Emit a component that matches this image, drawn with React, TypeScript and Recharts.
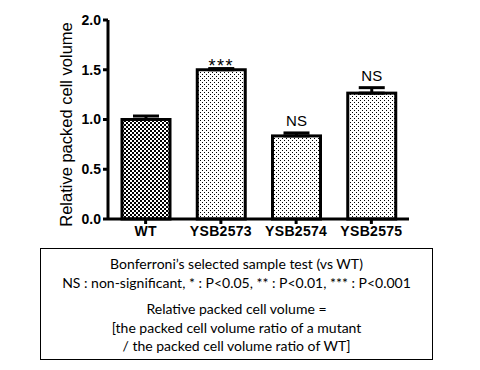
import React from "react";
import {
  BarChart, Bar, XAxis, YAxis, ErrorBar, LabelList, Label,
} from "recharts";

// ─── values ───────────────────────────────────────────────────────────────────
const STRAINS = ["WT", "YSB2573", "YSB2574", "YSB2575"];
const VOLUMES = [1.0, 1.5, 0.835, 1.265];
const ERRORS = [0.035, 0.012, 0.03, 0.055];
const SIGNIF = ["", "***", "NS", "NS"];
const Y_TICKS = [0, 0.5, 1.0, 1.5, 2.0];

const NOTE_LINES_TOP = [
  "Bonferroni\u2019s selected sample test (vs WT)",
  "NS : non-significant, * : P<0.05, ** : P<0.01, *** : P<0.001",
];
const NOTE_LINES_BOTTOM = [
  "Relative packed cell volume =",
  "[the packed cell volume ratio of a mutant",
  "/ the packed cell volume ratio of WT]",
];

const data = STRAINS.map((name, i) => ({
  name,
  value: VOLUMES[i],
  err: [0, ERRORS[i]],
  sig: SIGNIF[i],
}));

const AXIS_FONT = "'Liberation Sans', Arial, sans-serif";

// significance marks sit just above the error-bar cap
const SigLabel = (props: any) => {
  const { x, y, width, height, value, index } = props;
  if (!value) return null;
  const pxPerUnit = height / VOLUMES[index];
  const capY = y - ERRORS[index] * pxPerUnit;
  const isStars = value.startsWith("*");
  return (
    <text
      x={x + width / 2}
      y={isStars ? capY + 3 : capY - 7}
      textAnchor="middle"
      fontFamily={AXIS_FONT}
      fontSize={isStars ? 18 : 15}
      letterSpacing={isStars ? 1.5 : 0}
      fill="#000"
    >
      {value}
    </text>
  );
};

const YTitle = (props: any) => {
  const { viewBox } = props;
  const cx = viewBox.x + 18;
  const cy = viewBox.y + viewBox.height / 2 + 5;
  return (
    <text
      x={cx}
      y={cy}
      transform={`rotate(-90 ${cx} ${cy})`}
      textAnchor="middle"
      dominantBaseline="central"
      fontFamily={AXIS_FONT}
      fontSize={16.5}
      fill="#000"
    >
      Relative packed cell volume
    </text>
  );
};

export default function App() {
  return (
    <div style={{ position: "absolute", left: 0, top: 0, width: 480, height: 370, background: "#fff" }}>
      <BarChart
        width={480}
        height={250}
        data={data}
        margin={{ top: 20, right: 71, left: 48, bottom: 6 }}
        barSize={48}
      >
        <defs>
          <pattern id="checker" width="4" height="4" patternUnits="userSpaceOnUse">
            <rect width="4" height="4" fill="#fff" />
            <rect x="0" y="0" width="2" height="2" fill="#000" />
            <rect x="2" y="2" width="2" height="2" fill="#000" />
          </pattern>
          <pattern id="dots" width="4" height="4" patternUnits="userSpaceOnUse">
            <rect width="4" height="4" fill="#fff" />
            <rect x="0" y="0" width="1" height="1" fill="#000" />
            <rect x="2" y="2" width="1" height="1" fill="#000" />
          </pattern>
        </defs>
        <XAxis
          dataKey="name"
          height={25}
          stroke="#000"
          strokeWidth={3}
          tickSize={5}
          tick={{ fill: "#000", fontFamily: AXIS_FONT, fontSize: 14, fontWeight: "bold", letterSpacing: 0.3 }}
        />
        <YAxis
          width={60}
          domain={[0, 2]}
          ticks={Y_TICKS}
          interval={0}
          stroke="#000"
          strokeWidth={3}
          tickSize={5}
          tickFormatter={(v: number) => v.toFixed(1)}
          tick={{ fill: "#000", fontFamily: AXIS_FONT, fontSize: 14, fontWeight: "bold" }}
        >
          <Label content={<YTitle />} />
        </YAxis>
        <Bar
          dataKey="value"
          stroke="#000"
          strokeWidth={3}
          isAnimationActive={false}
          shape={(p: any) => (
            <rect
              x={p.x}
              y={p.y}
              width={p.width}
              height={p.height}
              fill={p.index === 0 ? "url(#checker)" : "url(#dots)"}
              stroke="#000"
              strokeWidth={3}
            />
          )}
        >
          <ErrorBar dataKey="err" width={13} strokeWidth={3} stroke="#000" direction="y" />
          <LabelList dataKey="sig" content={<SigLabel />} />
        </Bar>
      </BarChart>
      <div
        style={{
          position: "absolute",
          left: 40,
          top: 248,
          width: 393,
          height: 112,
          border: "1px solid #000",
          fontFamily: "Lato, 'Open Sans', sans-serif",
          fontSize: 14,
          color: "#000",
          textAlign: "center",
          lineHeight: "18.5px",
          boxSizing: "border-box",
          paddingTop: 6,
        }}
      >
        {NOTE_LINES_TOP.map((t) => (
          <div key={t} style={{ whiteSpace: "nowrap" }}>{t}</div>
        ))}
        <div style={{ height: 8 }} />
        {NOTE_LINES_BOTTOM.map((t) => (
          <div key={t} style={{ whiteSpace: "nowrap" }}>{t}</div>
        ))}
      </div>
    </div>
  );
}
